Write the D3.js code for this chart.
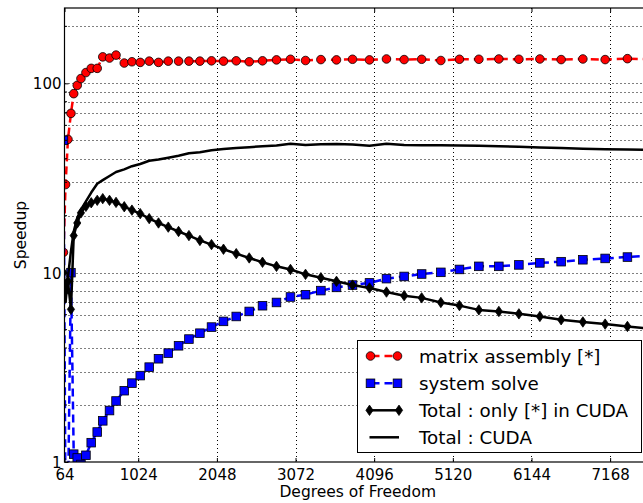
<!DOCTYPE html>
<html>
<head>
<meta charset="utf-8">
<script src="https://cdn.jsdelivr.net/npm/d3@7"></script>
<style>
  html, body { margin: 0; padding: 0; background: #fff; }
  svg { display: block; font-family: "DejaVu Sans", sans-serif; }
</style>
</head>
<body>
<svg id="chart" width="643" height="503"></svg>
<script>
// Degrees of freedom of each run
const dof = [50, 78, 109, 148, 184, 230, 278, 343, 412, 490, 562, 650, 735, 842, 942, 1050,
  1167, 1288, 1415, 1549, 1684, 1827, 1978, 2134, 2300, 2469, 2642, 2824, 3006, 3202, 3402,
  3605, 3814, 4035, 4256, 4486, 4714, 4964, 5206, 5459, 5719, 5980, 6253, 6530, 6813, 7103,
  7393, 7690];

// Speedup of the matrix assembly [*]
const assembly = [12.8, 29.2, 50.6, 69.4, 88.2, 97.6, 106, 114, 120, 120, 138, 136, 141, 128,
  130, 129, 131, 129, 131, 131, 131, 131, 131.5, 131, 131.5, 130, 131.5, 133, 134, 132, 133.5,
  133, 134, 133, 134.5, 133.5, 134, 132, 134, 134, 134.5, 134, 134.5, 133.5, 134.5, 133.5,
  135, 134];

// Speedup of the system solve
const solve = [50, 0.5, 0.6, 10.0, 1.10, 1.05, 0.97, 1.085, 1.265, 1.44, 1.65, 1.87, 2.10, 2.38,
  2.61, 2.86, 3.17, 3.51, 3.76, 4.11, 4.46, 4.79, 5.16, 5.53, 5.87, 6.24, 6.69, 6.96, 7.44,
  7.65, 8.04, 8.36, 8.6, 8.83, 9.3, 9.55, 9.84, 10.04, 10.4, 10.8, 10.8, 10.99, 11.26, 11.43,
  11.7, 11.89, 12.09, 12.3];

// Total speedup with only the assembly [*] on CUDA
const totalOnly = [10.0, 8.0, 9.0, 6.4, 15.7, 18.3, 20.7, 22.4, 23.4, 24.1, 24.6, 24.1, 23.5,
  22.3, 21.4, 20.5, 19.3, 18.3, 17.4, 16.5, 15.7, 14.8, 14.07, 13.3, 12.6, 11.96, 11.35, 10.8,
  10.4, 9.8, 9.4, 9.0, 8.6, 8.3, 7.9, 7.56, 7.36, 6.96, 6.7, 6.36, 6.24, 6.06, 5.87, 5.64,
  5.49, 5.35, 5.2, 5.05];

// Total speedup with everything on CUDA
const totalCuda = [9.8, 7.0, 9.5, 13.0, 16.5, 19.5, 21.5, 23.8, 26.5, 29.5, 30.8, 32.4, 34.0,
  35.1, 36.5, 37.5, 39.0, 39.6, 40.5, 41.5, 42.7, 43.2, 44.3, 45.0, 45.6, 46.0, 46.5, 47.0,
  48.0, 47.3, 47.7, 47.8, 47.5, 46.8, 48.0, 47.3, 47.1, 47.1, 47.0, 46.8, 46.5, 46.2, 45.8,
  45.5, 45.2, 44.9, 44.7, 44.5];

const xTicks = [64, 1024, 2048, 3072, 4096, 5120, 6144, 7168];
const yTicks = [1, 10, 100];
const yMinor = [2, 3, 4, 5, 6, 7, 8, 9, 20, 30, 40, 50, 60, 70, 80, 90, 200];

const legendLabels = ["matrix assembly [*]", "system solve", "Total : only [*] in CUDA", "Total : CUDA"];

const plotL = 64.5, plotR = 651, plotT = 8, plotB = 462;
const x = d3.scaleLinear().domain([64, 7700]).range([plotL, plotR]);
const y = d3.scaleLog().domain([1, 250]).range([plotB, plotT]);

const svg = d3.select("#chart");

svg.append("defs").append("clipPath").attr("id", "plotclip")
  .append("rect").attr("x", plotL).attr("y", plotT)
  .attr("width", plotR - plotL).attr("height", plotB - plotT);

// dotted grid
const grid = svg.append("g").attr("stroke", "#000").attr("stroke-width", 1)
  .attr("stroke-dasharray", "1,3").attr("fill", "none");
grid.selectAll("line.v").data(xTicks.slice(1)).join("line")
  .attr("x1", d => Math.round(x(d)) + 0.5).attr("x2", d => Math.round(x(d)) + 0.5)
  .attr("y1", plotT).attr("y2", plotB);
grid.selectAll("line.h").data(yTicks.slice(1).concat(yMinor)).join("line")
  .attr("y1", d => Math.round(y(d)) + 0.5).attr("y2", d => Math.round(y(d)) + 0.5)
  .attr("x1", plotL).attr("x2", plotR);

// data series
const plot = svg.append("g").attr("clip-path", "url(#plotclip)");
const pts = arr => dof.map((d, i) => [x(d), y(arr[i])]);
const line = d3.line();

const diamond = "M0,-5.2L3.6,0L0,5.2L-3.6,0Z";

function drawSeries(g, arr, color, dashed, marker) {
  const p = pts(arr);
  g.append("path").attr("d", line(p)).attr("fill", "none")
    .attr("stroke", color).attr("stroke-width", 2.5)
    .attr("stroke-dasharray", dashed ? "8,5" : null)
    .attr("stroke-linejoin", "round");
  if (marker === "circle") {
    g.selectAll(null).data(p).join("circle")
      .attr("cx", d => d[0]).attr("cy", d => d[1]).attr("r", 4.3)
      .attr("fill", color).attr("stroke", "#000").attr("stroke-width", 0.8);
  } else if (marker === "square") {
    g.selectAll(null).data(p).join("rect")
      .attr("x", d => d[0] - 4.3).attr("y", d => d[1] - 4.3)
      .attr("width", 8.6).attr("height", 8.6)
      .attr("fill", color).attr("stroke", "#000").attr("stroke-width", 0.8);
  } else if (marker === "diamond") {
    g.selectAll(null).data(p).join("path")
      .attr("transform", d => `translate(${d[0]},${d[1]})`)
      .attr("d", diamond).attr("fill", "#000").attr("stroke", "#000").attr("stroke-width", 0.8);
  }
}

drawSeries(plot.append("g"), assembly, "#ff0000", true, "circle");
drawSeries(plot.append("g"), solve, "#0000ff", true, "square");
drawSeries(plot.append("g"), totalOnly, "#000", false, "diamond");
drawSeries(plot.append("g"), totalCuda, "#000", false, null);

// axes
const xAxis = d3.axisBottom(x).tickValues(xTicks).tickFormat(d3.format("d"))
  .tickSizeInner(-4).tickSizeOuter(0).tickPadding(7);
const gx = svg.append("g").attr("transform", `translate(0,${plotB})`).call(xAxis);
gx.select(".domain").remove();
gx.selectAll("text").attr("font-size", 15).attr("fill", "#000").attr("font-family", "DejaVu Sans");
gx.selectAll("line").attr("stroke", "#000");

const xTop = d3.axisTop(x).tickValues(xTicks).tickFormat("").tickSizeInner(-4).tickSizeOuter(0);
const gxt = svg.append("g").attr("transform", `translate(0,${plotT})`).call(xTop);
gxt.select(".domain").remove();
gxt.selectAll("line").attr("stroke", "#000");

const yAxis = d3.axisLeft(y).tickValues(yTicks).tickFormat(d3.format("d"))
  .tickSizeInner(-4).tickSizeOuter(0).tickPadding(3);
const gy = svg.append("g").attr("transform", `translate(${plotL},0)`).call(yAxis);
gy.select(".domain").remove();
gy.selectAll("text").attr("font-size", 15).attr("fill", "#000").attr("font-family", "DejaVu Sans")
  .attr("dy", "0.36em");
gy.selectAll("line").attr("stroke", "#000");

svg.append("g").selectAll("line").data(yMinor).join("line")
  .attr("x1", plotL).attr("x2", plotL + 2.5)
  .attr("y1", d => y(d)).attr("y2", d => y(d)).attr("stroke", "#000");

// frame
svg.append("rect").attr("x", plotL).attr("y", plotT).attr("width", plotR - plotL)
  .attr("height", plotB - plotT).attr("fill", "none").attr("stroke", "#000").attr("stroke-width", 1.2);

// axis titles
svg.append("text").attr("x", (plotL + plotR) / 2).attr("y", 497)
  .attr("text-anchor", "middle").attr("font-size", 15.5).text("Degrees of Freedom");
svg.append("text").attr("transform", `translate(26,${(plotT + plotB) / 2}) rotate(-90)`)
  .attr("text-anchor", "middle").attr("font-size", 15.5).text("Speedup");

// legend
const lg = svg.append("g");
lg.append("rect").attr("x", 357.5).attr("y", 340.5).attr("width", 284).attr("height", 112)
  .attr("fill", "#fff").attr("stroke", "#000").attr("stroke-width", 1);
const rowY = [356, 383.3, 410.3, 437.3];
const hx0 = 370.5, hx1 = 397.5;
// row 1
lg.append("line").attr("x1", hx0).attr("x2", hx1).attr("y1", rowY[0]).attr("y2", rowY[0])
  .attr("stroke", "#ff0000").attr("stroke-width", 2.5).attr("stroke-dasharray", "8,5").attr("stroke-dashoffset", -1);
[hx0, hx1].forEach(cx => lg.append("circle").attr("cx", cx).attr("cy", rowY[0]).attr("r", 4.3)
  .attr("fill", "#ff0000").attr("stroke", "#000").attr("stroke-width", 0.8));
// row 2
lg.append("line").attr("x1", hx0).attr("x2", hx1).attr("y1", rowY[1]).attr("y2", rowY[1])
  .attr("stroke", "#0000ff").attr("stroke-width", 2.5).attr("stroke-dasharray", "8,5").attr("stroke-dashoffset", -1);
[hx0, hx1].forEach(cx => lg.append("rect").attr("x", cx - 4.3).attr("y", rowY[1] - 4.3)
  .attr("width", 8.6).attr("height", 8.6)
  .attr("fill", "#0000ff").attr("stroke", "#000").attr("stroke-width", 0.8));
// row 3
lg.append("line").attr("x1", 369.5).attr("x2", 399).attr("y1", rowY[2]).attr("y2", rowY[2])
  .attr("stroke", "#000").attr("stroke-width", 2.5);
[369.5, 399].forEach(cx => lg.append("path").attr("transform", `translate(${cx},${rowY[2]})`)
  .attr("d", diamond).attr("fill", "#000").attr("stroke", "#000").attr("stroke-width", 0.8));
// row 4
lg.append("line").attr("x1", 369.5).attr("x2", 399).attr("y1", rowY[3]).attr("y2", rowY[3])
  .attr("stroke", "#000").attr("stroke-width", 2.5);

lg.selectAll("text").data(legendLabels).join("text")
  .attr("x", 419).attr("y", (d, i) => rowY[i] + 6.5)
  .attr("font-size", 18.3).attr("fill", "#000").text(d => d);
</script>
</body>
</html>
